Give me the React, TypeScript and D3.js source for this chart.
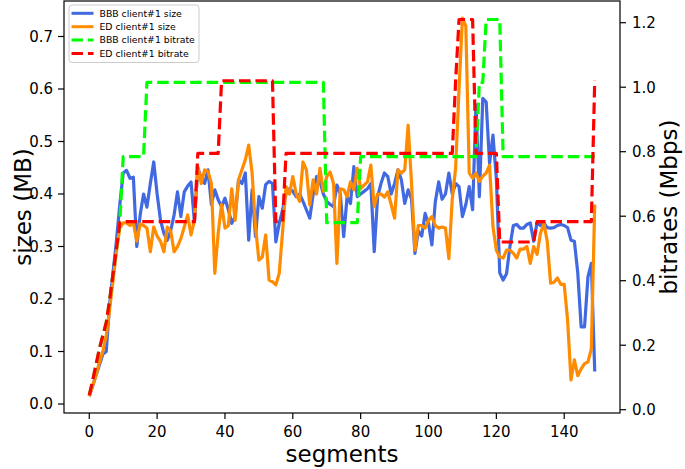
import React from "react";
import * as d3 from "d3";

// ---------- data ----------
const bbbSize: number[] = [
  0.015, 0.035, 0.055, 0.075, 0.095, 0.10, 0.19, 0.25, 0.31, 0.38,
  0.44, 0.445, 0.43, 0.432, 0.30, 0.36, 0.40, 0.375, 0.42, 0.461,
  0.40, 0.35, 0.325, 0.312, 0.33, 0.36, 0.404, 0.357, 0.404, 0.415,
  0.423, 0.347, 0.45, 0.43, 0.42, 0.446, 0.38, 0.408, 0.389, 0.376,
  0.392, 0.37, 0.344, 0.357, 0.427, 0.42, 0.44, 0.312, 0.408, 0.319,
  0.395, 0.373, 0.418, 0.424, 0.42, 0.309, 0.344, 0.37, 0.40, 0.41,
  0.405, 0.395, 0.40, 0.386, 0.37, 0.354, 0.40, 0.433, 0.424, 0.40,
  0.386, 0.38, 0.376, 0.417, 0.40, 0.319, 0.395, 0.382, 0.452, 0.395,
  0.40, 0.405, 0.41, 0.42, 0.29, 0.395, 0.42, 0.44, 0.433, 0.40,
  0.42, 0.446, 0.427, 0.382, 0.408, 0.39, 0.287, 0.33, 0.32, 0.363,
  0.344, 0.303, 0.385, 0.423, 0.39, 0.40, 0.44, 0.40, 0.42, 0.414,
  0.357, 0.38, 0.414, 0.37, 0.57, 0.395, 0.582, 0.575, 0.458, 0.512,
  0.43, 0.25, 0.236, 0.248, 0.30, 0.34, 0.342, 0.335, 0.335, 0.342,
  0.345, 0.31, 0.345, 0.34, 0.345, 0.336, 0.335, 0.336, 0.34, 0.342,
  0.34, 0.336, 0.312, 0.31, 0.25, 0.147, 0.147, 0.242, 0.268, 0.062,
];

const edSize: number[] = [
  0.015, 0.035, 0.055, 0.08, 0.10, 0.13, 0.18, 0.235, 0.29, 0.335,
  0.345, 0.345, 0.34, 0.345, 0.31, 0.343, 0.34, 0.335, 0.29, 0.337,
  0.32, 0.31, 0.29, 0.337, 0.33, 0.29, 0.30, 0.315, 0.337, 0.36,
  0.322, 0.35, 0.452, 0.42, 0.446, 0.443, 0.42, 0.249, 0.325, 0.38,
  0.335, 0.34, 0.41, 0.35, 0.427, 0.446, 0.465, 0.493, 0.44, 0.338,
  0.274, 0.28, 0.322, 0.236, 0.233, 0.227, 0.249, 0.33, 0.414, 0.40,
  0.433, 0.40, 0.386, 0.461, 0.446, 0.379, 0.427, 0.40, 0.449, 0.405,
  0.433, 0.442, 0.42, 0.268, 0.41, 0.408, 0.395, 0.423, 0.408, 0.449,
  0.41, 0.417, 0.423, 0.455, 0.376, 0.40, 0.40, 0.394, 0.404, 0.38,
  0.354, 0.446, 0.44, 0.446, 0.531, 0.42, 0.293, 0.34, 0.34, 0.335,
  0.35, 0.357, 0.34, 0.335, 0.337, 0.335, 0.277, 0.39, 0.45, 0.60,
  0.735, 0.72, 0.44, 0.43, 0.44, 0.424, 0.434, 0.44, 0.455, 0.338,
  0.293, 0.28, 0.278, 0.293, 0.293, 0.287, 0.278, 0.295, 0.295, 0.30,
  0.268, 0.30, 0.285, 0.325, 0.344, 0.31, 0.23, 0.232, 0.24, 0.228,
  0.228, 0.16, 0.046, 0.084, 0.054, 0.067, 0.077, 0.08, 0.105, 0.38,
];

const bbbBitrate: number[] = [
  0.045, 0.09, 0.14, 0.19, 0.23, 0.27, 0.34, 0.42, 0.50, 0.58,
  0.785, 0.785, 0.785, 0.785, 0.785, 0.785, 0.785, 1.015, 1.015, 1.015,
  1.015, 1.015, 1.015, 1.015, 1.015, 1.015, 1.015, 1.015, 1.015, 1.015,
  1.015, 1.015, 1.015, 1.015, 1.015, 1.015, 1.015, 1.015, 1.015, 1.015,
  1.015, 1.015, 1.015, 1.015, 1.015, 1.015, 1.015, 1.015, 1.015, 1.015,
  1.015, 1.015, 1.015, 1.015, 1.015, 1.015, 1.015, 1.015, 1.015, 1.015,
  1.015, 1.015, 1.015, 1.015, 1.015, 1.015, 1.015, 1.015, 1.015, 1.015,
  0.58, 0.58, 0.58, 0.58, 0.58, 0.58, 0.58, 0.58, 0.58, 0.58,
  0.785, 0.785, 0.785, 0.785, 0.785, 0.785, 0.785, 0.785, 0.785, 0.785,
  0.785, 0.785, 0.785, 0.785, 0.785, 0.785, 0.785, 0.785, 0.785, 0.785,
  0.785, 0.785, 0.785, 0.785, 0.785, 0.785, 0.785, 0.785, 0.785, 0.785,
  0.785, 0.785, 0.785, 0.785, 0.785, 1.015, 1.015, 1.21, 1.21, 1.21,
  1.21, 1.21, 0.785, 0.785, 0.785, 0.785, 0.785, 0.785, 0.785, 0.785,
  0.785, 0.785, 0.785, 0.785, 0.785, 0.785, 0.785, 0.785, 0.785, 0.785,
  0.785, 0.785, 0.785, 0.785, 0.785, 0.785, 0.785, 0.785, 0.785, 0.785,
];

const edBitrate: number[] = [
  0.045, 0.09, 0.14, 0.19, 0.23, 0.27, 0.34, 0.42, 0.50, 0.58,
  0.583, 0.583, 0.583, 0.583, 0.583, 0.583, 0.583, 0.583, 0.583, 0.583,
  0.583, 0.583, 0.583, 0.583, 0.583, 0.583, 0.583, 0.583, 0.583, 0.583,
  0.583, 0.583, 0.795, 0.795, 0.795, 0.795, 0.795, 0.795, 0.795, 1.02,
  1.02, 1.02, 1.02, 1.02, 1.02, 1.02, 1.02, 1.02, 1.02, 1.02,
  1.02, 1.02, 1.02, 1.02, 1.02, 0.583, 0.583, 0.583, 0.795, 0.795,
  0.795, 0.795, 0.795, 0.795, 0.795, 0.795, 0.795, 0.795, 0.795, 0.795,
  0.795, 0.795, 0.795, 0.795, 0.795, 0.795, 0.795, 0.795, 0.795, 0.795,
  0.795, 0.795, 0.795, 0.795, 0.795, 0.795, 0.795, 0.795, 0.795, 0.795,
  0.795, 0.795, 0.795, 0.795, 0.795, 0.795, 0.795, 0.795, 0.795, 0.795,
  0.795, 0.795, 0.795, 0.795, 0.795, 0.795, 0.795, 0.795, 1.02, 1.21,
  1.21, 1.21, 1.21, 1.21, 0.795, 0.795, 0.795, 0.795, 0.795, 0.795,
  0.795, 0.52, 0.52, 0.52, 0.52, 0.52, 0.52, 0.52, 0.52, 0.52,
  0.52, 0.52, 0.583, 0.583, 0.583, 0.583, 0.583, 0.583, 0.583, 0.583,
  0.583, 0.583, 0.583, 0.583, 0.583, 0.583, 0.583, 0.583, 0.583, 1.02,
];

const xTicks = [0, 20, 40, 60, 80, 100, 120, 140];
const yLeftTicks = [0.0, 0.1, 0.2, 0.3, 0.4, 0.5, 0.6, 0.7];
const yRightTicks = [0.0, 0.2, 0.4, 0.6, 0.8, 1.0, 1.2];
const legendLabels = [
  "BBB client#1 size",
  "ED client#1 size",
  "BBB client#1 bitrate",
  "ED client#1 bitrate",
];

// ---------- layout ----------
const W = 685;
const H = 469;
const L = 64;
const R = 620;
const T = 1;
const B = 413;
const FONT = "'DejaVu Sans', sans-serif";
const DASH = "11.5 5";

export default function App() {
  const x = d3.scaleLinear().domain([-7.45, 156.45]).range([L, R]);
  const yL = d3.scaleLinear().domain([-0.0171, 0.7676]).range([B, T]);
  const yR = d3.scaleLinear().domain([-0.0102, 1.2673]).range([B, T]);

  const lineL = d3
    .line<number>()
    .x((_, i) => x(i))
    .y((d) => yL(d));
  const lineR = d3
    .line<number>()
    .x((_, i) => x(i))
    .y((d) => yR(d));

  const series = [
    { d: lineL(bbbSize), color: "#4169E1", dash: undefined },
    { d: lineL(edSize), color: "#FF8C00", dash: undefined },
    { d: lineR(bbbBitrate), color: "#00FF00", dash: DASH },
    { d: lineR(edBitrate), color: "#FF0000", dash: DASH },
  ];

  const legX = 69;
  const legY = 5;
  const rowH = 13.4;

  return (
    <svg
      width={W}
      height={H}
      style={{ position: "absolute", left: 0, top: 0, background: "#fff" }}
      fontFamily={FONT}
    >
      <rect x={0} y={0} width={W} height={H} fill="#fff" />
      <defs>
        <clipPath id="plotClip">
          <rect x={L} y={T} width={R - L} height={B - T} />
        </clipPath>
      </defs>

      <g clipPath="url(#plotClip)">
        {series.map((s, i) => (
          <path
            key={i}
            d={s.d || ""}
            fill="none"
            stroke={s.color}
            strokeWidth={3.2}
            strokeDasharray={s.dash}
            strokeLinejoin="round"
          />
        ))}
      </g>

      {/* frame */}
      <rect x={L} y={T} width={R - L} height={B - T} fill="none" stroke="#000" strokeWidth={1.2} />

      {/* bottom axis */}
      {xTicks.map((t) => (
        <g key={"x" + t}>
          <line x1={x(t)} x2={x(t)} y1={B} y2={B + 6} stroke="#000" strokeWidth={1.2} />
          <text x={x(t)} y={437} textAnchor="middle" fontSize={15}>
            {t}
          </text>
        </g>
      ))}
      <text x={(L + R) / 2} y={462} textAnchor="middle" fontSize={23}>
        segments
      </text>

      {/* left axis */}
      {yLeftTicks.map((t) => (
        <g key={"yl" + t}>
          <line x1={L - 6} x2={L} y1={yL(t)} y2={yL(t)} stroke="#000" strokeWidth={1.2} />
          <text x={53} y={yL(t)} dy="0.36em" textAnchor="end" fontSize={15}>
            {t.toFixed(1)}
          </text>
        </g>
      ))}
      <text
        transform={`translate(31, ${(T + B) / 2}) rotate(-90)`}
        textAnchor="middle"
        fontSize={23}
      >
        sizes (MB)
      </text>

      {/* right axis */}
      {yRightTicks.map((t) => (
        <g key={"yr" + t}>
          <line x1={R} x2={R + 6} y1={yR(t)} y2={yR(t)} stroke="#000" strokeWidth={1.2} />
          <text x={632} y={yR(t)} dy="0.36em" textAnchor="start" fontSize={15}>
            {t.toFixed(1)}
          </text>
        </g>
      ))}
      <text
        transform={`translate(677, ${(T + B) / 2}) rotate(-90)`}
        textAnchor="middle"
        fontSize={23}
      >
        bitrates (Mbps)
      </text>

      {/* legend */}
      <rect
        x={legX}
        y={legY}
        width={130}
        height={57.5}
        rx={3}
        fill="#fff"
        fillOpacity={0.8}
        stroke="#cccccc"
        strokeWidth={1}
      />
      {legendLabels.map((lab, i) => {
        const cy = legY + 8.3 + i * rowH;
        return (
          <g key={lab}>
            <line
              x1={legX + 2.5}
              x2={legX + 24.5}
              y1={cy}
              y2={cy}
              stroke={series[i].color}
              strokeWidth={3}
              strokeDasharray={series[i].dash}
            />
            <text x={legX + 30.5} y={cy} dy="0.36em" fontSize={9.3}>
              {lab}
            </text>
          </g>
        );
      })}
    </svg>
  );
}
